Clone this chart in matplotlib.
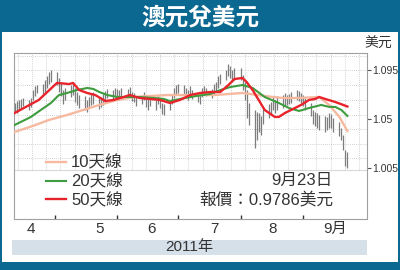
import numpy as np
import pandas as pd
import matplotlib
matplotlib.use('Agg')
import matplotlib.pyplot as plt
import matplotlib.dates as mdates
from matplotlib.patches import Rectangle

plt.rcParams['font.family'] = ['Liberation Sans', 'Noto Sans CJK TC', 'DejaVu Sans']

# daily high / low (AUD/USD), 2011-04-11 .. 2011-09-23
days = pd.bdate_range('2011-04-11', '2011-09-23')
highs = [
    1.0647, 1.0665, 1.0675, 1.0684, 1.0693, 1.0675, 1.0693, 1.0766, 1.0803, 1.0812, 1.0821, 1.0858, 1.0895, 1.0932, 1.0950,
    1.0932, 1.0877, 1.0840, 1.0766, 1.0785, 1.0812, 1.0831, 1.0785, 1.0748, 1.0720, 1.0711, 1.0675, 1.0702, 1.0730, 1.0748,
    1.0693, 1.0702, 1.0730, 1.0757, 1.0776, 1.0766, 1.0785,
    1.0776, 1.0766, 1.0785, 1.0776, 1.0794, 1.0748, 1.0739, 1.0711, 1.0720, 1.0748, 1.0711, 1.0684, 1.0702, 1.0675, 1.0711,
    1.0693, 1.0647, 1.0638, 1.0675, 1.0720, 1.0785, 1.0812,
    1.0821, 1.0812, 1.0785, 1.0766, 1.0803, 1.0766, 1.0739, 1.0720, 1.0785, 1.0803, 1.0785, 1.0776, 1.0821, 1.0840, 1.0895,
    1.0913, 1.0950, 1.1005, 1.0987, 1.0950, 1.0968,
    1.0968, 1.0904, 1.0840, 1.0766, 1.0647, 1.0583, 1.0564, 1.0555, 1.0528, 1.0601, 1.0638, 1.0656, 1.0711, 1.0675, 1.0711,
    1.0720, 1.0739, 1.0720, 1.0730, 1.0748, 1.0766, 1.0757, 1.0739,
    1.0720, 1.0693, 1.0647, 1.0583, 1.0564, 1.0555, 1.0537, 1.0528, 1.0518, 1.0555, 1.0546, 1.0509, 1.0473, 1.0418, 1.0353,
    1.0216, 1.0197,
]
lows = [
    1.0564, 1.0555, 1.0583, 1.0601, 1.0620, 1.0583, 1.0610, 1.0675, 1.0711, 1.0739, 1.0721, 1.0748, 1.0785, 1.0821, 1.0840,
    1.0812, 1.0748, 1.0711, 1.0638, 1.0675, 1.0702, 1.0721, 1.0656, 1.0629, 1.0601, 1.0583, 1.0564, 1.0601, 1.0629, 1.0638,
    1.0592, 1.0610, 1.0629, 1.0665, 1.0693, 1.0684, 1.0702,
    1.0684, 1.0675, 1.0702, 1.0693, 1.0711, 1.0665, 1.0656, 1.0620, 1.0638, 1.0675, 1.0610, 1.0583, 1.0620, 1.0583, 1.0638,
    1.0601, 1.0546, 1.0537, 1.0583, 1.0638, 1.0693, 1.0721,
    1.0739, 1.0730, 1.0702, 1.0675, 1.0711, 1.0684, 1.0656, 1.0638, 1.0702, 1.0721, 1.0711, 1.0693, 1.0730, 1.0748, 1.0785,
    1.0821, 1.0858, 1.0895, 1.0877, 1.0840, 1.0858,
    1.0858, 1.0766, 1.0675, 1.0509, 1.0445, 1.0234, 1.0307, 1.0381, 1.0353, 1.0454, 1.0509, 1.0537, 1.0583, 1.0555, 1.0583,
    1.0601, 1.0620, 1.0629, 1.0638, 1.0647, 1.0675, 1.0665, 1.0647,
    1.0620, 1.0583, 1.0528, 1.0454, 1.0436, 1.0418, 1.0399, 1.0381, 1.0399, 1.0418, 1.0418, 1.0381, 1.0344, 1.0307, 1.0216,
    1.0069, 1.0050,
]

# moving-average lines
ma10_dates = ['2011-04-11', '2011-04-20', '2011-04-28', '2011-05-07', '2011-05-15', '2011-05-23', '2011-06-01',
              '2011-06-09', '2011-06-17', '2011-06-26', '2011-07-06', '2011-07-19', '2011-08-02', '2011-08-13',
              '2011-08-22', '2011-08-30', '2011-09-09', '2011-09-14', '2011-09-19', '2011-09-23']
ma10 = [1.0381, 1.0436, 1.0491, 1.0537, 1.0583, 1.0629, 1.0675, 1.0702, 1.0711, 1.0720, 1.0720, 1.0720, 1.0739,
        1.0711, 1.0693, 1.0693, 1.0702, 1.0629, 1.0519, 1.0390]

ma20_dates = ['2011-04-11', '2011-04-19', '2011-04-24', '2011-04-29', '2011-05-03', '2011-05-07', '2011-05-12',
              '2011-05-17', '2011-05-20', '2011-05-23', '2011-05-27', '2011-06-01', '2011-06-06', '2011-06-12',
              '2011-06-19', '2011-06-24', '2011-06-27', '2011-07-02', '2011-07-10', '2011-07-17', '2011-07-22',
              '2011-07-27', '2011-08-02', '2011-08-07', '2011-08-13', '2011-08-20', '2011-08-25', '2011-08-30',
              '2011-09-04', '2011-09-10', '2011-09-14', '2011-09-17', '2011-09-20', '2011-09-23']
ma20 = [1.0445, 1.0518, 1.0583, 1.0647, 1.0720, 1.0739, 1.0766, 1.0785, 1.0776, 1.0748, 1.0720, 1.0702, 1.0702,
        1.0702, 1.0693, 1.0684, 1.0665, 1.0684, 1.0711, 1.0730, 1.0766, 1.0794, 1.0812, 1.0785, 1.0702, 1.0647,
        1.0601, 1.0574, 1.0601, 1.0629, 1.0611, 1.0611, 1.0583, 1.0528]

ma50_dates = ['2011-04-11', '2011-04-23', '2011-05-02', '2011-05-08', '2011-05-10', '2011-05-13', '2011-05-17',
              '2011-05-21', '2011-05-26', '2011-05-30', '2011-06-04', '2011-06-07', '2011-06-12', '2011-06-17',
              '2011-06-22', '2011-06-27', '2011-07-02', '2011-07-07', '2011-07-12', '2011-07-17', '2011-07-22',
              '2011-07-26', '2011-07-29', '2011-08-02', '2011-08-04', '2011-08-07', '2011-08-10', '2011-08-13',
              '2011-08-18', '2011-08-20', '2011-08-23', '2011-08-28', '2011-08-31', '2011-09-04', '2011-09-07',
              '2011-09-09', '2011-09-12', '2011-09-17', '2011-09-23']
ma50 = [1.0555, 1.0675, 1.0831, 1.0821, 1.0831, 1.0766, 1.0739, 1.0720, 1.0665, 1.0675, 1.0702, 1.0720, 1.0693,
        1.0684, 1.0675, 1.0647, 1.0675, 1.0720, 1.0739, 1.0748, 1.0748, 1.0812, 1.0867, 1.0877, 1.0840, 1.0766,
        1.0675, 1.0583, 1.0519, 1.0519, 1.0555, 1.0601, 1.0629, 1.0675, 1.0684, 1.0702, 1.0684, 1.0656, 1.0615]

legend_labels = ['10天線', '20天線', '50天線']
month_labels = ['4', '5', '6', '7', '8', '9月']
month_label_dates = ['2011-04-19', '2011-05-23', '2011-06-18', '2011-07-19', '2011-08-17', '2011-09-17']
month_starts = ['2011-05-01', '2011-06-01', '2011-07-01', '2011-08-01', '2011-09-01']
yticks = [1.005, 1.05, 1.095]

BLUE = '#0b6890'
C10, C20, C50 = '#f6b9a0', '#3d9c3d', '#e8232b'

fig = plt.figure(figsize=(4, 2.7), dpi=100, facecolor=BLUE)
fig.patches.append(Rectangle((0.005, 0.0296), 0.99, 0.852, transform=fig.transFigure,
                             facecolor='white', edgecolor='none', zorder=-5))
fig.text(0.5, 0.935, '澳元兌美元', color='white', fontsize=17, fontweight='bold',
         family='Noto Sans CJK TC', ha='center', va='center')
fig.text(0.945, 0.838, '美元', color='#333333', fontsize=10, ha='center', va='center')

ax = fig.add_axes([0.035, 0.1889, 0.8825, 0.6148])
ax.set_facecolor('none')
x0 = mdates.date2num(pd.Timestamp('2011-04-10 17:00'))
x1 = mdates.date2num(pd.Timestamp('2011-10-02 17:00'))
ax.set_xlim(x0, x1)
ax.set_ylim(0.9582, 1.1106)

# background grid (dotted), only above the legend area
grid_bottom = 1.0032
for gy in [1.1083, 1.095, 1.0812, 1.0675, 1.0541, 1.0408, 1.0275, 1.0142]:
    ax.axhline(gy, color='#c4c4c4', lw=0.6, ls=(0, (1, 1.5)), zorder=0)
ax.axhline(grid_bottom, color='#d8d8d8', lw=0.8, zorder=0)
gx = mdates.date2num(pd.Timestamp('2011-04-12 14:00'))
while gx < x1:
    ax.vlines(gx, grid_bottom, 1.1106, color='#c4c4c4', lw=0.6, linestyles=(0, (1, 1.5)), zorder=0)
    gx += 7.05

# high-low bars
ax.vlines(days, lows, highs, color='#7d7d7d', lw=0.9, zorder=2)

l10, = ax.plot(pd.to_datetime(ma10_dates), ma10, color=C10, lw=1.7, zorder=3)
l20, = ax.plot(pd.to_datetime(ma20_dates), ma20, color=C20, lw=1.5, zorder=4)
l50, = ax.plot(pd.to_datetime(ma50_dates), ma50, color=C50, lw=1.7, zorder=5)

leg = fig.legend([l10, l20, l50], legend_labels, loc='upper left', bbox_to_anchor=(0.115, 0.425),
                 frameon=False, fontsize=12, handlelength=1.2, handletextpad=0.3,
                 labelspacing=0.2, borderpad=0, borderaxespad=0)
for t in leg.get_texts():
    t.set_color('#333333')

fig.text(0.832, 0.33, '9月23日', color='#333333', fontsize=12, ha='right', va='center')
fig.text(0.832, 0.256, '報價：0.9786美元', color='#333333', fontsize=12, ha='right', va='center')

for s in ax.spines.values():
    s.set_color('#a0a0a0')
    s.set_linewidth(0.8)

ax.set_xticks(pd.to_datetime(month_starts))
ax.set_xticklabels([])
ax.set_xticks(pd.to_datetime(month_label_dates), minor=True)
ax.set_xticklabels(month_labels, minor=True)
ax.tick_params(axis='x', which='major', direction='in', length=3, width=1, color='#333333')
ax.tick_params(axis='x', which='minor', length=0, pad=2, labelsize=11, labelcolor='#333333')

ax.yaxis.tick_right()
ax.set_yticks(yticks)
ax.set_yticklabels(['1.005', '1.05', '1.095'])
ax.tick_params(axis='y', direction='out', length=3, width=0.8, color='#555555', pad=0.5,
               labelsize=7.5, labelcolor='#333333')

# year bar
yax = fig.add_axes([0.03, 0.0556, 0.8875, 0.0556])
yax.set_facecolor('#d6e0e9')
yax.set_xticks([])
yax.set_yticks([])
for s in yax.spines.values():
    s.set_visible(False)
yax.text(0.5, 0.5, '2011年', transform=yax.transAxes, ha='center', va='center',
         fontsize=11, color='#333333')

fig.savefig('out.png', dpi=100, facecolor=BLUE)
